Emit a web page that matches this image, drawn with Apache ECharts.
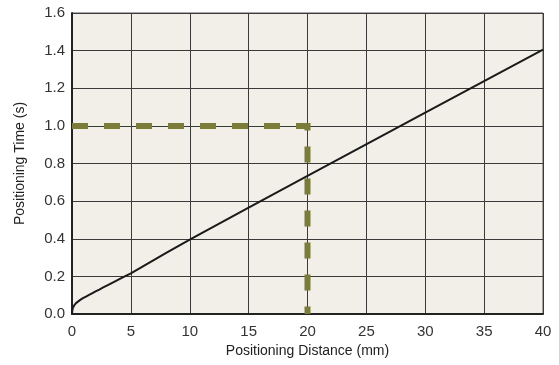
<!DOCTYPE html>
<html>
<head>
<meta charset="utf-8">
<script src="https://cdn.jsdelivr.net/npm/echarts@6/dist/echarts.min.js"></script>
<style>
  html, body { margin: 0; padding: 0; background: #ffffff; }
  #chart { width: 559px; height: 365px; }
</style>
</head>
<body>
<div id="chart"></div>
<script>
// Positioning time versus positioning distance
const distance = [0, 0.02, 0.06, 0.11, 0.17, 0.25, 0.34, 0.5, 0.7, 0.93, 1.19, 1.45, 1.7, 2.0, 2.32, 2.65, 3.0, 3.37, 3.74, 4.35, 5, 6.28, 8, 10, 15, 20, 30, 40];
const time     = [0, 0.016, 0.03, 0.038, 0.045, 0.052, 0.058, 0.066, 0.075, 0.084, 0.093, 0.102, 0.11, 0.12, 0.13, 0.141, 0.152, 0.164, 0.176, 0.196, 0.216, 0.262, 0.325, 0.395, 0.565, 0.734, 1.07, 1.405];

// Reference marker: 20 mm reached in 1.0 s
const markerX = [0, 20, 20];
const markerY = [1.0, 1.0, 0];

const xTicks = [0, 5, 10, 15, 20, 25, 30, 35, 40];
const yTicks = [0.0, 0.2, 0.4, 0.6, 0.8, 1.0, 1.2, 1.4, 1.6];

const font = '"Liberation Sans Narrow", "Arial Narrow", "Liberation Sans", sans-serif';

const chart = echarts.init(document.getElementById('chart'));
chart.setOption({
  animation: false,
  grid: { left: 72, right: 16, top: 13, bottom: 51, show: true, backgroundColor: '#f1efe8', borderColor: '#555', borderWidth: 1 },
  xAxis: {
    type: 'value', min: xTicks[0], max: xTicks[xTicks.length - 1], interval: 5,
    name: 'Positioning Distance (mm)', nameLocation: 'middle', nameGap: 30,
    nameTextStyle: { fontFamily: font, fontSize: 14, color: '#222' },
    axisLine: { show: true, lineStyle: { color: '#222', width: 2 } },
    axisTick: { show: false },
    axisLabel: { fontFamily: font, fontSize: 15, color: '#333', margin: 10 },
    splitLine: { show: true, lineStyle: { color: '#3a3a3a', width: 1 } }
  },
  yAxis: {
    type: 'value', min: yTicks[0], max: yTicks[yTicks.length - 1], interval: 0.2,
    name: 'Positioning Time (s)', nameLocation: 'middle', nameGap: 45, nameRotate: 90,
    nameTextStyle: { fontFamily: font, fontSize: 14, color: '#222' },
    axisLine: { show: true, lineStyle: { color: '#222', width: 2 } },
    axisTick: { show: false },
    axisLabel: { fontFamily: font, fontSize: 15, color: '#333', margin: 7,
      formatter: v => v.toFixed(1) },
    splitLine: { show: true, lineStyle: { color: '#3a3a3a', width: 1 } }
  },
  series: [
    {
      type: 'line', data: markerX.map((x, i) => [x, markerY[i]]),
      showSymbol: false, z: 3,
      lineStyle: { color: '#7b7b3a', width: 6, type: [16, 16], cap: 'butt', join: 'miter' }
    },
    {
      type: 'line', data: distance.map((x, i) => [x, time[i]]),
      smooth: false, showSymbol: false, z: 4,
      lineStyle: { color: '#1a1a1a', width: 2, join: 'round' }
    }
  ]
});
</script>
</body>
</html>
